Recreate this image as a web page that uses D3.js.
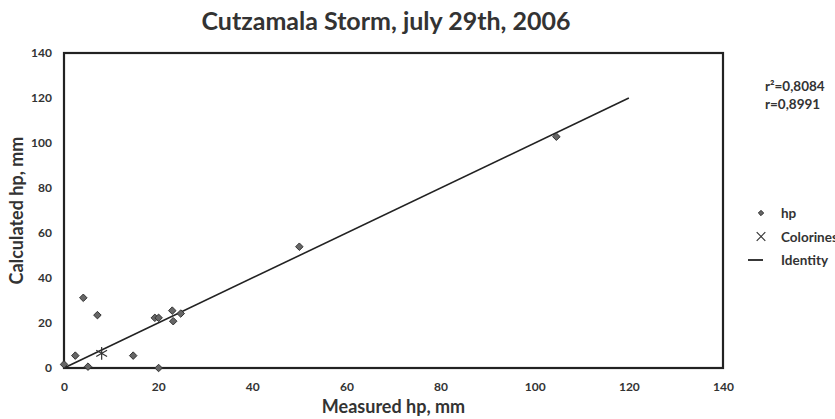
<!DOCTYPE html>
<html>
<head>
<meta charset="utf-8">
<script src="https://cdn.jsdelivr.net/npm/d3@7"></script>
<style>
  body { margin: 0; background: #fff; }
  text { font-family: Lato, "Open Sans", sans-serif; font-weight: bold; fill: #333; }
</style>
</head>
<body>
<div id="chart"></div>
<script>
// measured (x) vs calculated (y), hp in mm
const hpMeasured   = [0, 2.4, 4.1, 5.1, 7.1, 14.7, 19.3, 20.1, 20.1, 23.0, 23.2, 24.8, 50.0, 104.6];
const hpCalculated = [1.6, 5.5, 31.2, 0.6, 23.5, 5.5, 22.3, 22.3, 0, 25.5, 20.8, 24.2, 53.9, 102.8];
const colorinesMeasured = [8.0];
const colorinesCalculated = [6.5];
const identityLine = [0, 120];
const xTicks = [0, 20, 40, 60, 80, 100, 120, 140];
const yTicks = [0, 20, 40, 60, 80, 100, 120, 140];
const statsLines = ['r²=0,8084', 'r=0,8991'];
const legendItems = ['hp', 'Colorines', 'Identity'];

const svgWidth = 835;
const svgHeight = 419;
const margin = { top: 53, right: 112, bottom: 51, left: 64 };
const width = svgWidth - margin.left - margin.right;
const height = svgHeight - margin.top - margin.bottom;

const svg = d3.select('#chart').append('svg')
  .attr('width', svgWidth)
  .attr('height', svgHeight);

const g = svg.append('g')
  .attr('transform', `translate(${margin.left},${margin.top})`);

const x = d3.scaleLinear().domain([0, 140]).range([0, width]);
const y = d3.scaleLinear().domain([0, 140]).range([height, 0]);

// title
svg.append('text')
  .attr('x', 386)
  .attr('y', 30)
  .attr('text-anchor', 'middle')
  .style('font-size', '25px')
  .text('Cutzamala Storm, july 29th, 2006');

// axes (labels only, frame drawn separately)
const xAxis = g.append('g')
  .attr('transform', `translate(0,${height})`)
  .call(d3.axisBottom(x).tickValues(xTicks).tickSize(0).tickPadding(14));
const yAxis = g.append('g')
  .call(d3.axisLeft(y).tickValues(yTicks).tickSize(0).tickPadding(12));

[xAxis, yAxis].forEach(a => {
  a.select('.domain').remove();
  a.selectAll('text')
    .style('font-size', '12px')
    .style('font-family', 'Lato, sans-serif')
    .style('font-weight', 'bold')
    .attr('fill', '#333');
});

// frame
g.append('rect')
  .attr('width', width)
  .attr('height', height)
  .attr('fill', 'none')
  .attr('stroke', '#222')
  .attr('stroke-width', 2.2);

// axis titles
svg.append('text')
  .attr('x', margin.left + x(70))
  .attr('y', 413)
  .attr('text-anchor', 'middle')
  .style('font-size', '18px')
  .text('Measured hp, mm');

svg.append('text')
  .attr('transform', `translate(23,${margin.top + y(70)}) rotate(-90)`)
  .attr('text-anchor', 'middle')
  .style('font-size', '18px')
  .text('Calculated hp, mm');

// identity line
g.append('path')
  .datum(identityLine)
  .attr('fill', 'none')
  .attr('stroke', '#222')
  .attr('stroke-width', 1.6)
  .attr('d', d3.line().x(d => x(d)).y(d => y(d)));

const diamond = d3.symbol().type(d3.symbolDiamond2).size(36);
const star = d3.symbol().type(d3.symbolAsterisk).size(110);
const cross = d3.symbol().type(d3.symbolX).size(50);

// hp points
g.selectAll('.hp')
  .data(hpMeasured.map((v, i) => [v, hpCalculated[i]]))
  .join('path')
  .attr('class', 'hp')
  .attr('d', diamond)
  .attr('transform', d => `translate(${x(d[0])},${y(d[1])})`)
  .attr('fill', '#666')
  .attr('stroke', '#333')
  .attr('stroke-width', 1);

// Colorines point
g.selectAll('.col')
  .data(colorinesMeasured.map((v, i) => [v, colorinesCalculated[i]]))
  .join('path')
  .attr('class', 'col')
  .attr('d', star)
  .attr('transform', d => `translate(${x(d[0])},${y(d[1])})`)
  .attr('fill', 'none')
  .attr('stroke', '#333')
  .attr('stroke-width', 1.2);

// stats
svg.selectAll('.stat')
  .data(statsLines)
  .join('text')
  .attr('class', 'stat')
  .attr('x', 765)
  .attr('y', (d, i) => 91 + i * 18)
  .style('font-size', '13.5px')
  .text(d => d);

// legend
const legend = svg.append('g').attr('transform', 'translate(761,213)');
legendItems.forEach((name, i) => {
  const row = legend.append('g').attr('transform', `translate(0,${i * 23.5})`);
  if (i === 0) {
    row.append('path').attr('d', d3.symbol().type(d3.symbolDiamond2).size(18))
      .attr('fill', '#666').attr('stroke', '#333');
  } else if (i === 1) {
    row.append('path').attr('d', cross)
      .attr('fill', 'none').attr('stroke', '#333').attr('stroke-width', 1.2);
  } else {
    row.append('line').attr('x1', -13).attr('x2', 2)
      .attr('stroke', '#222').attr('stroke-width', 1.8);
  }
  row.append('text')
    .attr('x', 20)
    .attr('y', 5)
    .style('font-size', '13.5px')
    .text(name);
});
</script>
</body>
</html>
